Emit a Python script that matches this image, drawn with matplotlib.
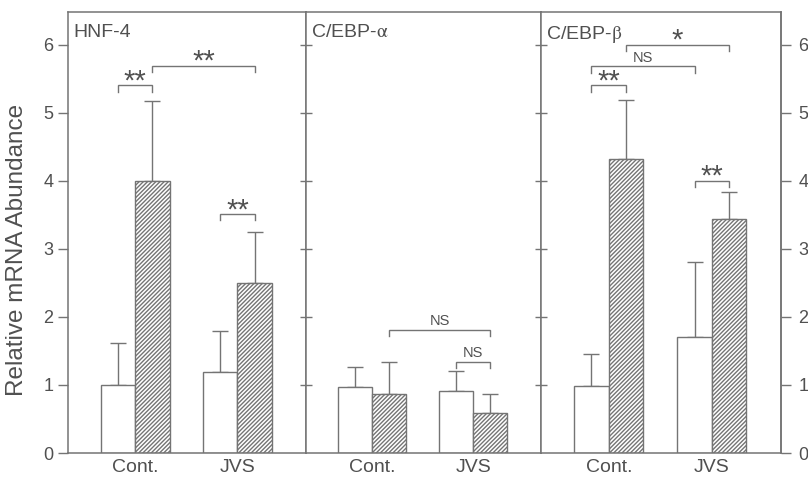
import numpy as np
import matplotlib.pyplot as plt

plt.rcParams['font.family'] = ['Liberation Sans', 'DejaVu Sans']
plt.rcParams['mathtext.fontset'] = 'stix'
plt.rcParams['hatch.linewidth'] = 1.0

groups = ['Cont.', 'JVS']
panels = ['HNF-4', r'C/EBP-$\mathrm{\alpha}$', r'C/EBP-$\mathrm{\beta}$']

# white bars / hatched bars, per panel: [Cont., JVS]
white = [[1.00, 1.19], [0.97, 0.91], [0.99, 1.71]]
white_err = [[0.62, 0.61], [0.29, 0.29], [0.46, 1.10]]
hatched = [[4.00, 2.50], [0.87, 0.59], [4.32, 3.44]]
hatched_err = [[1.17, 0.74], [0.47, 0.28], [0.87, 0.40]]

# significance brackets: (group a, bar a, group b, bar b, height, label)
# bar 0 = white, bar 1 = hatched
brackets = [
    [(0, 0, 0, 1, 5.40, '**'), (0, 1, 1, 1, 5.69, '**'), (1, 0, 1, 1, 3.51, '**')],
    [(0, 1, 1, 1, 1.81, 'NS'), (1, 0, 1, 1, 1.34, 'NS')],
    [(0, 0, 0, 1, 5.40, '**'), (0, 0, 1, 0, 5.68, 'NS'),
     (0, 1, 1, 1, 6.00, '*'), (1, 0, 1, 1, 4.00, '**')],
]

centers = np.array([1.92, 4.84])
width = 0.98
line_c = '#747474'
text_c = '#505050'

fig, axes = plt.subplots(1, 3, figsize=(8.08, 4.79), dpi=100,
                         gridspec_kw={'width_ratios': [238, 235, 240], 'wspace': 0})
fig.subplots_adjust(left=68/808, right=781/808, bottom=26/479, top=1-12/479)


def bar_x(g, b):
    return centers[g] + (b - 0.5) * width


def bracket(ax, x1, x2, y, label):
    leg = 0.09
    ax.plot([x1, x1, x2, x2], [y - leg, y, y, y - leg], color=line_c, lw=1.0,
            solid_joinstyle='miter', clip_on=False)
    xm = (x1 + x2) / 2
    if label == 'NS':
        ax.annotate(label, xy=(xm, y), xytext=(0, 3.5), textcoords='offset points',
                    ha='center', va='baseline', fontsize=10.5, color=text_c)
    else:
        ax.annotate(label, xy=(xm, y), xytext=(0, -3), textcoords='offset points',
                    ha='center', va='baseline', fontsize=21, color=text_c)


for i, ax in enumerate(axes):
    xw = centers - width / 2
    xh = centers + width / 2
    ax.bar(xw, white[i], width, color='white', edgecolor=line_c, linewidth=1.0, zorder=2)
    ax.bar(xh, hatched[i], width, color='white', edgecolor=line_c, hatch='////////',
           linewidth=1.0, zorder=2)
    ax.errorbar(xw, white[i], yerr=[np.zeros(2), white_err[i]], fmt='none',
                ecolor=line_c, elinewidth=1.0, capsize=5.5, capthick=1.0, zorder=1)
    ax.errorbar(xh, hatched[i], yerr=[np.zeros(2), hatched_err[i]], fmt='none',
                ecolor=line_c, elinewidth=1.0, capsize=5.5, capthick=1.0, zorder=1)

    for ga, ba, gb, bb, y, lab in brackets[i]:
        bracket(ax, bar_x(ga, ba), bar_x(gb, bb), y, lab)

    ax.text(0.021, 0.972, panels[i], transform=ax.transAxes, ha='left', va='top',
            fontsize=14, color=text_c)

    ax.set_xlim(0, 6.8)
    ax.set_ylim(0, 6.48)
    ax.set_xticks(centers)
    ax.set_xticklabels(groups, fontsize=14, color=text_c)
    ax.tick_params(axis='x', length=0, pad=4)
    for s in ax.spines.values():
        s.set_color(line_c)
        s.set_linewidth(1.1)

axes[0].set_yticks(range(0, 7))
axes[0].tick_params(axis='y', direction='out', length=7.5, width=1.0, color=line_c,
                    labelsize=13, labelcolor=text_c, pad=3, right=False)
axes[0].set_ylabel('Relative mRNA Abundance', fontsize=17.5, color=text_c)
axes[0].yaxis.set_label_coords(-0.17, 0.46)

for ax in axes[1:]:
    ax.set_yticks(range(1, 7))
    ax.tick_params(axis='y', direction='inout', length=9, width=1.0, color=line_c,
                   labelleft=False)

ax_r = axes[2].secondary_yaxis('right')
ax_r.set_yticks(range(0, 7))
ax_r.tick_params(direction='out', length=7.5, width=1.0, color=line_c,
                 labelsize=13, labelcolor=text_c, pad=5)
ax_r.spines['right'].set_color(line_c)
ax_r.spines['right'].set_linewidth(1.1)

fig.savefig('out.png', dpi=100)
